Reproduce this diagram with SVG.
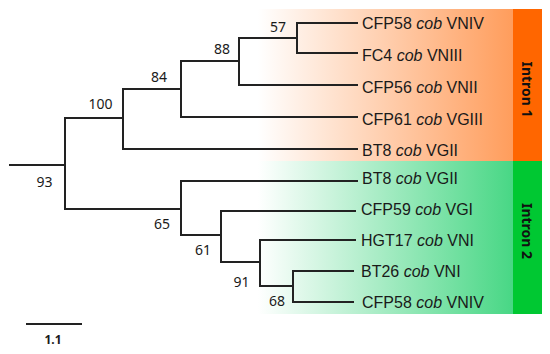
<svg xmlns="http://www.w3.org/2000/svg" width="550" height="354" viewBox="0 0 550 354">
<defs>
<linearGradient id="gOrange" gradientUnits="userSpaceOnUse" x1="258" y1="0" x2="513" y2="0">
<stop offset="0" stop-color="#ffffff"/>
<stop offset="1" stop-color="#ff9d5c"/>
</linearGradient>
<linearGradient id="gGreen" gradientUnits="userSpaceOnUse" x1="258" y1="0" x2="513" y2="0">
<stop offset="0" stop-color="#ffffff"/>
<stop offset="1" stop-color="#48d785"/>
</linearGradient>
<style>
.br{fill:none;stroke:#222;stroke-width:2;stroke-linecap:square}
.bs{font-family:"Noto Sans","DejaVu Sans",sans-serif;font-size:14px;fill:#1a1a1a;text-anchor:middle}
.lf{font-family:"Liberation Sans",Arial,sans-serif;font-size:16px;fill:#1a1a1a}
.it{font-style:italic}
.grp{font-family:"Noto Sans","DejaVu Sans",sans-serif;font-size:14px;font-weight:bold;fill:#111;text-anchor:middle}
</style>
</defs>
<rect width="550" height="354" fill="#ffffff"/>
<g id="background">
<rect x="258" y="9" width="255" height="152" fill="url(#gOrange)"/>
<rect x="258" y="161" width="255" height="153" fill="url(#gGreen)"/>
</g>
<g id="group-intron1">
<rect x="513" y="9" width="29" height="152" fill="#ff6600"/>
<text class="grp" transform="translate(522,89.5) rotate(90)">Intron 1</text>
</g>
<g id="group-intron2">
<rect x="513" y="161" width="29" height="153" fill="#00c832"/>
<text class="grp" transform="translate(522,231) rotate(90)">Intron 2</text>
</g>
<g id="connectors">
<path class="br" d="M10,165H65"/>
<path class="br" d="M65,118V209"/>
<path class="br" d="M357,149H123V89H181"/>
<path class="br" d="M65,118H123"/>
<path class="br" d="M357,117H181V61H239"/>
<path class="br" d="M357,85H239V38H297"/>
<path class="br" d="M357,23H297V53H357"/>
<path class="br" d="M65,209H181"/>
<path class="br" d="M357,181H181V235H221"/>
<path class="br" d="M355,211H221V262H260"/>
<path class="br" d="M355,240H260V286H293"/>
<path class="br" d="M353,271H293V302H353"/>
</g>
<g id="support">
<text class="bs" x="278" y="32">57</text>
<text class="bs" x="222" y="54">88</text>
<text class="bs" x="159" y="82">84</text>
<text class="bs" x="100.5" y="109">100</text>
<text class="bs" x="44.5" y="187">93</text>
<text class="bs" x="162" y="229">65</text>
<text class="bs" x="203" y="255">61</text>
<text class="bs" x="241.5" y="287">91</text>
<text class="bs" x="277" y="306">68</text>
</g>
<g id="leaf-CFP58-VNIV-1"><text class="lf" x="362" y="29">CFP58 <tspan class="it">cob</tspan> VNIV</text></g>
<g id="leaf-FC4-VNIII"><text class="lf" x="362" y="61">FC4 <tspan class="it">cob</tspan> VNIII</text></g>
<g id="leaf-CFP56-VNII"><text class="lf" x="362" y="93">CFP56 <tspan class="it">cob</tspan> VNII</text></g>
<g id="leaf-CFP61-VGIII"><text class="lf" x="362" y="125">CFP61 <tspan class="it">cob</tspan> VGIII</text></g>
<g id="leaf-BT8-VGII-1"><text class="lf" x="362" y="156">BT8 <tspan class="it">cob</tspan> VGII</text></g>
<g id="leaf-BT8-VGII-2"><text class="lf" x="362" y="184">BT8 <tspan class="it">cob</tspan> VGII</text></g>
<g id="leaf-CFP59-VGI"><text class="lf" x="361" y="215">CFP59 <tspan class="it">cob</tspan> VGI</text></g>
<g id="leaf-HGT17-VNI"><text class="lf" x="361" y="246">HGT17 <tspan class="it">cob</tspan> VNI</text></g>
<g id="leaf-BT26-VNI"><text class="lf" x="361" y="277">BT26 <tspan class="it">cob</tspan> VNI</text></g>
<g id="leaf-CFP58-VNIV-2"><text class="lf" x="362" y="308">CFP58 <tspan class="it">cob</tspan> VNIV</text></g>
<g id="scale">
<path class="br" d="M26,324H82" style="stroke-linecap:butt"/>
<text class="bs" x="53" y="344" style="font-weight:bold;font-size:12px">1.1</text>
</g>
</svg>
